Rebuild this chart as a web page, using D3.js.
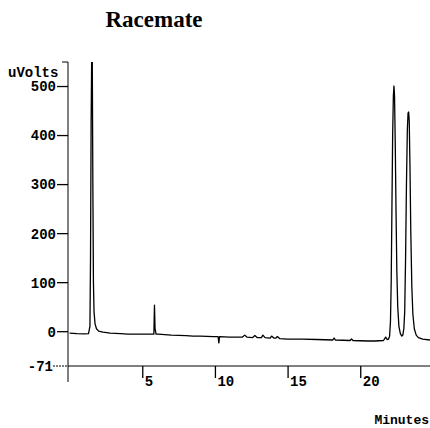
<!DOCTYPE html>
<html><head><meta charset="utf-8">
<script src="https://cdn.jsdelivr.net/npm/d3@7"></script>
<style>body{margin:0;background:#fff}svg{display:block}</style>
</head><body>
<script>
// Chromatogram trace: retention time (minutes) and detector signal (uVolts)
const times = [0,0.5,1.0,1.3,1.40,1.44,1.48,1.52,1.56,1.60,1.64,1.68,1.75,1.85,2.0,2.3,2.8,3.5,4.0,5.0,5.80,5.84,5.88,5.95,6.1,7.0,8.0,8.5,9.0,9.9,10.22,10.27,10.32,11.0,11.9,12.05,12.2,12.6,12.75,12.9,13.2,13.3,13.45,13.8,13.9,14.05,14.2,14.3,14.45,15.0,16.0,17.0,18.1,18.2,18.3,19.3,19.4,19.5,20.5,21.0,21.6,21.75,21.85,21.95,22.02,22.08,22.13,22.18,22.23,22.28,22.32,22.36,22.41,22.46,22.52,22.58,22.66,22.76,22.86,22.93,23.0,23.06,23.12,23.18,23.24,23.29,23.33,23.37,23.42,23.48,23.55,23.62,23.72,23.85,24.0,24.3,24.8];
const signal = [-4,-5,-5.5,-5,10,150,420,560,560,300,100,40,15,5,0,-2,-4,-5,-6,-6,-6,53,5,-6,-6,-8,-9,-10,-10,-11,-11,-24,-11,-12,-12,-8,-12,-13,-9,-13,-13,-8,-13,-14,-10,-14,-14,-11,-15,-16,-16,-17,-18,-14,-18,-19,-16,-19,-20,-20,-19,-12,-17,-16,-10,20,100,250,400,480,500,480,380,250,120,50,10,-5,-10,-8,5,40,150,300,410,445,447,430,340,200,90,35,5,-8,-13,-16,-18];
const xTicks = [5,10,15,20];
const yTicks = [0,100,200,300,400,500];
const yMinLabel = -71;
const title = "Racemate";
const yLabel = "uVolts";
const xLabel = "Minutes";

const W = 430, H = 428;
const svg = d3.select("body").append("svg").attr("width", W).attr("height", H);

const x = d3.scaleLinear().domain([0, 24.8]).range([69.6, 430]);
const y = d3.scaleLinear().domain([-71, 549]).range([366, 62]);
const axisX = 68;
const mono = "'Liberation Mono', 'DejaVu Sans Mono', monospace";

// title
svg.append("text").attr("x", 154).attr("y", 27).attr("text-anchor", "middle")
  .attr("font-family", "'Liberation Serif', 'DejaVu Serif', serif")
  .attr("font-weight", "bold").attr("font-size", 23).text(title);

// clip for trace
svg.append("clipPath").attr("id", "clip").append("rect")
  .attr("x", axisX).attr("y", 62).attr("width", W - axisX).attr("height", 366 - 62);

// Y axis
const yAxis = d3.axisLeft(y).tickValues(yTicks).tickSize(11).tickPadding(1).tickFormat(d3.format("d"));
const gy = svg.append("g").attr("transform", `translate(${axisX},0)`).call(yAxis);
gy.select(".domain").remove();
gy.selectAll("text").attr("font-family", mono).attr("font-size", 14).attr("font-weight", "bold").attr("fill", "#000").attr("dy", "0.35em");
gy.selectAll("line").attr("stroke", "#000").attr("stroke-width", 1.3);
svg.append("line").attr("x1", axisX).attr("x2", axisX).attr("y1", 62).attr("y2", 382)
  .attr("stroke", "#000").attr("stroke-width", 1);
svg.append("line").attr("x1", axisX - 6).attr("x2", axisX).attr("y1", 62).attr("y2", 62)
  .attr("stroke", "#000").attr("stroke-width", 1);
// -71 label and dotted tick
svg.append("line").attr("x1", 53).attr("x2", axisX).attr("y1", y(yMinLabel)).attr("y2", y(yMinLabel))
  .attr("stroke", "#000").attr("stroke-width", 1).attr("stroke-dasharray", "2,1");
svg.append("text").attr("x", 53).attr("y", y(yMinLabel)).attr("dy", "0.35em").attr("text-anchor", "end")
  .attr("font-family", mono).attr("font-size", 14).attr("font-weight", "bold").text(yMinLabel);
svg.append("text").attr("x", 8).attr("y", 77)
  .attr("font-family", mono).attr("font-size", 14).attr("font-weight", "bold").text(yLabel);

// X axis
const xAxis = d3.axisBottom(x).tickValues(xTicks).tickSize(12).tickFormat(d3.format("d"));
const gx = svg.append("g").attr("transform", `translate(0,${y(yMinLabel)})`).call(xAxis);
gx.select(".domain").remove();
gx.selectAll("line").attr("stroke", "#000").attr("stroke-width", 1.3);
gx.selectAll("text").attr("font-family", mono).attr("font-size", 14).attr("font-weight", "bold").attr("fill", "#000")
  .attr("text-anchor", "start").attr("x", 2).attr("y", 10).attr("dy", "0.71em");
svg.append("line").attr("x1", axisX).attr("x2", W).attr("y1", y(yMinLabel)).attr("y2", y(yMinLabel))
  .attr("stroke", "#000").attr("stroke-width", 1);
svg.append("text").attr("x", 429).attr("y", 424).attr("text-anchor", "end")
  .attr("font-family", mono).attr("font-size", 13).attr("font-weight", "bold").text(xLabel);

// trace
const pts = times.map((t, i) => [t, signal[i]]);
const line = d3.line().x(d => x(d[0])).y(d => y(d[1]));
svg.append("path").datum(pts).attr("clip-path", "url(#clip)").attr("d", line)
  .attr("fill", "none").attr("stroke", "#000").attr("stroke-width", 1.3).attr("stroke-linejoin", "round");
</script>
</body></html>
